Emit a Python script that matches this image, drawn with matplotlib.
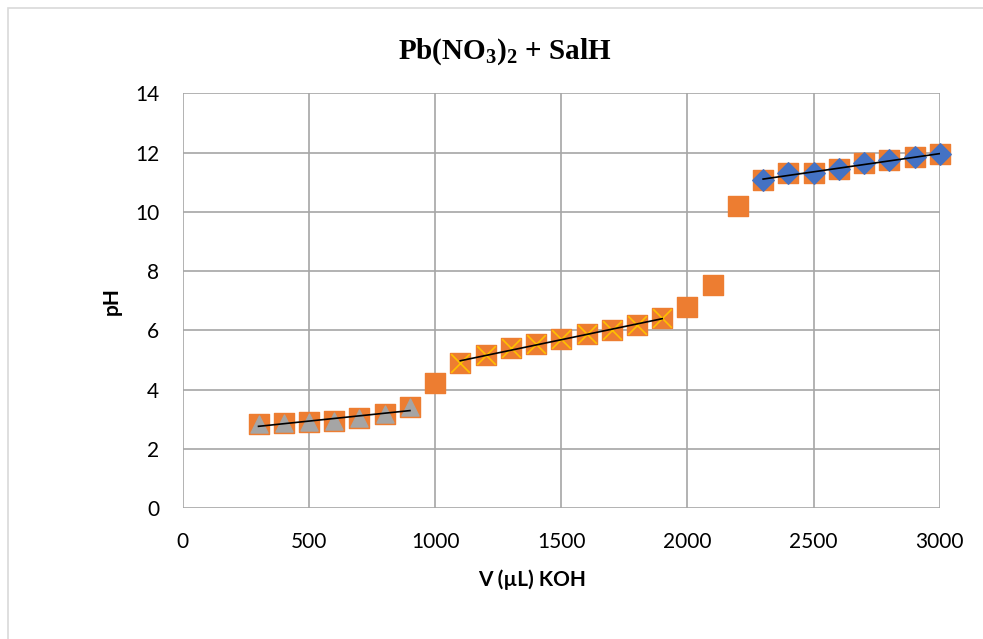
import matplotlib.pyplot as plt
from matplotlib.patches import Rectangle
import numpy as np

plt.rcParams['font.family'] = ['Lato', 'DejaVu Sans']
plt.rcParams['mathtext.fontset'] = 'custom'
plt.rcParams['mathtext.rm'] = 'Liberation Serif:bold'
plt.rcParams['mathtext.bf'] = 'Liberation Serif:bold'

# volumes (uL KOH) and pH
V = [300, 400, 500, 600, 700, 800, 900, 1000, 1100, 1200, 1300, 1400, 1500,
     1600, 1700, 1800, 1900, 2000, 2100, 2200, 2300, 2400, 2500, 2600, 2700,
     2800, 2900, 3000]
pH = [2.83, 2.87, 2.90, 2.94, 3.04, 3.17, 3.41, 4.22, 4.89, 5.16, 5.40, 5.53,
      5.70, 5.87, 6.00, 6.17, 6.41, 6.78, 7.52, 10.19, 11.07, 11.30, 11.30,
      11.44, 11.64, 11.74, 11.84, 11.94]

# segments
V1 = [300, 400, 500, 600, 700, 800, 900]
pH1 = [2.83, 2.87, 2.90, 2.94, 3.04, 3.17, 3.41]
V2 = [1100, 1200, 1300, 1400, 1500, 1600, 1700, 1800, 1900]
pH2 = [4.89, 5.16, 5.40, 5.53, 5.70, 5.87, 6.00, 6.17, 6.41]
V3 = [2300, 2400, 2500, 2600, 2700, 2800, 2900, 3000]
pH3 = [11.07, 11.30, 11.30, 11.44, 11.64, 11.74, 11.84, 11.94]

fig = plt.figure(figsize=(9.83, 6.39), dpi=100)
# chart border (only left/top visible in the crop)
fig.add_artist(Rectangle((8 / 983, -0.1), 1.2, 1.1 - 8 / 639, transform=fig.transFigure,
                         fill=False, edgecolor='#d9d9d9', lw=1.2))
ax = fig.add_axes([0.186, 0.205, 0.77, 0.649])

ax.scatter(V, pH, marker='s', s=190, color='#ED7D31', zorder=3, clip_on=False)
ax.scatter(V1, pH1, marker='^', s=150, color='#A5A5A5', zorder=4, clip_on=False)
ax.scatter(V2, pH2, marker='x', s=180, color='#FFC000', linewidths=1.2, zorder=4, clip_on=False)
ax.scatter(V3, pH3, marker='D', s=120, color='#4472C4', zorder=4, clip_on=False)

# linear trendlines
for xs, ys in [(V1, pH1), (V2, pH2), (V3, pH3)]:
    a, b = np.polyfit(xs, ys, 1)
    xx = np.array([xs[0], xs[-1]])
    ax.plot(xx, a * xx + b, color='black', lw=1.2, zorder=5)

ax.set_xlim(0, 3000)
ax.set_ylim(0, 14)
ax.set_xticks(range(0, 3001, 500))
ax.set_yticks(range(0, 15, 2))
ax.grid(color='#a6a6a6', lw=1.2)
ax.set_axisbelow(True)
for s in ax.spines.values():
    s.set_visible(False)
ax.tick_params(length=0, labelsize=15, colors='black')
ax.tick_params(axis='x', pad=17)
ax.tick_params(axis='y', pad=17)

ax.set_xlabel('V (µL) KOH', fontsize=15, fontweight='bold', va='center')
ax.xaxis.set_label_coords(0.462, -0.174)
ax.set_ylabel('pH', fontsize=15, fontweight='bold', va='center')
ax.yaxis.set_label_coords(-0.094, 0.5)
fig.text(505 / 983, 1 - 52 / 639, r'Pb(NO$_3$)$_2$ + SalH', fontsize=21,
         family='Liberation Serif', fontweight='bold', ha='center', va='center')

plt.savefig('out.png', dpi=100)
